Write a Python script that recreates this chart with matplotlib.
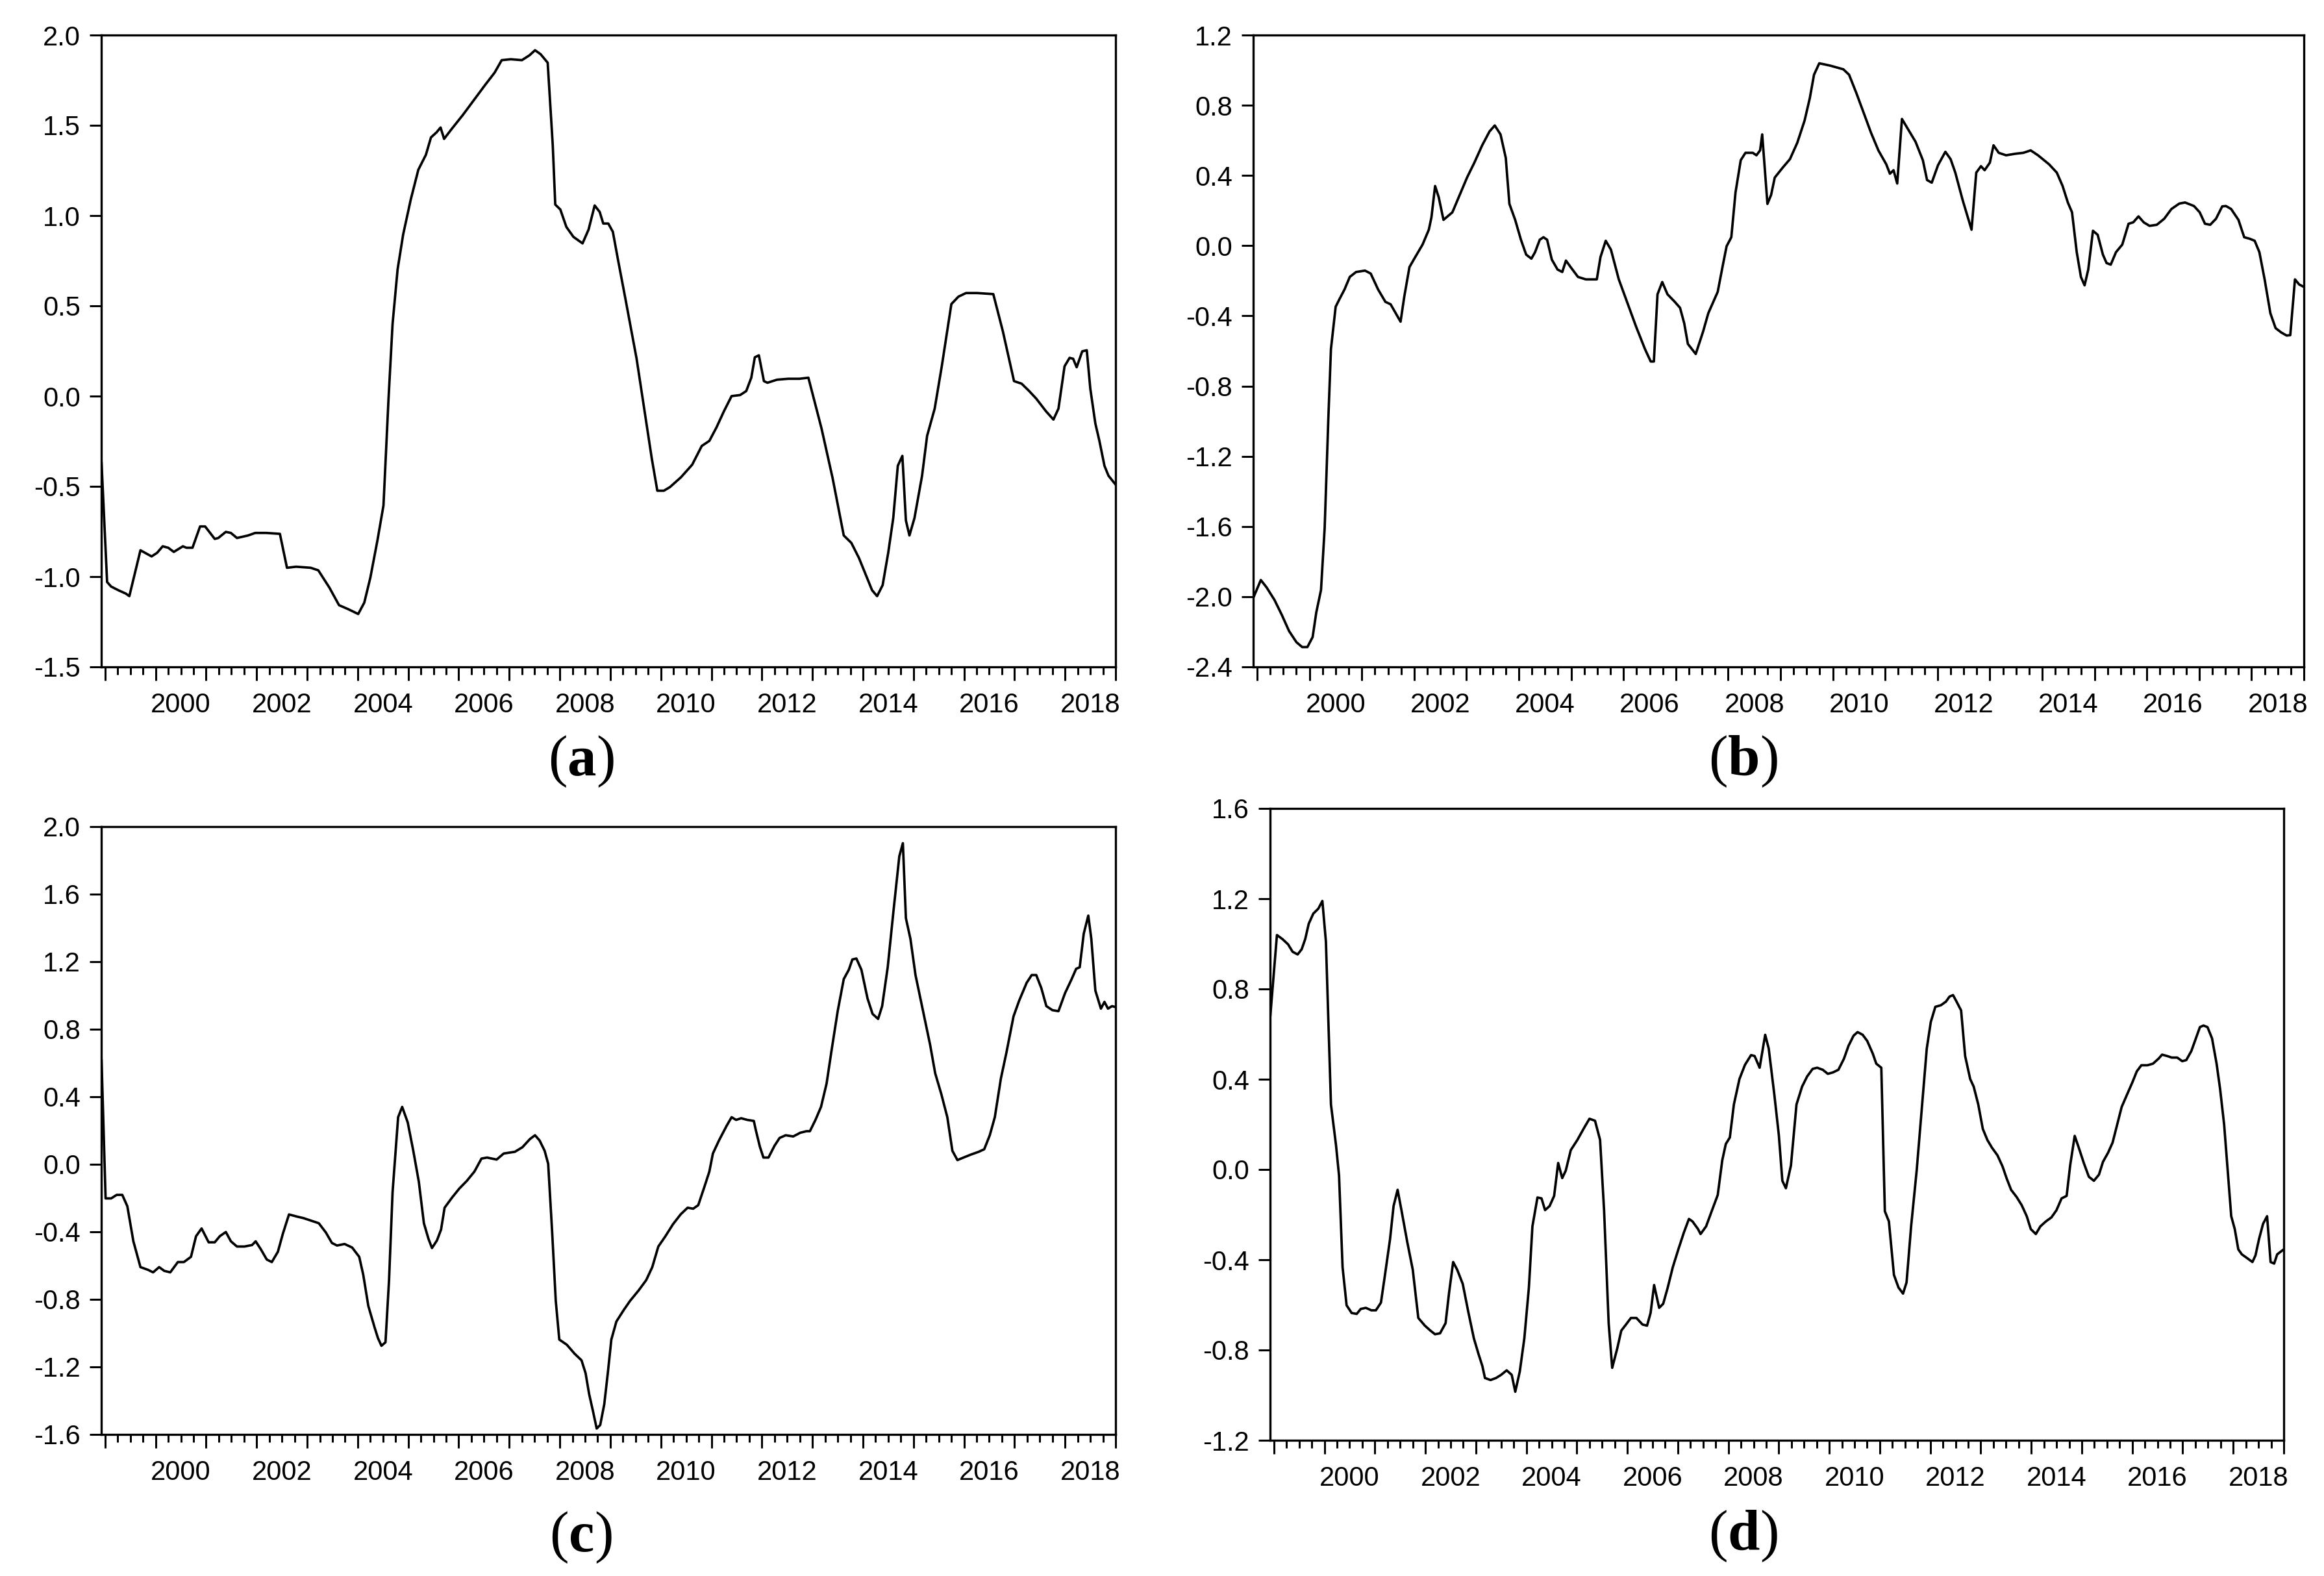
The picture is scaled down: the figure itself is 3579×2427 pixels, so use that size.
import numpy as np
import matplotlib
matplotlib.use("Agg")
import matplotlib.pyplot as plt
from matplotlib import transforms
from matplotlib.ticker import FormatStrFormatter

matplotlib.rcParams["font.family"] = ["Liberation Sans", "DejaVu Sans"]
matplotlib.rcParams["axes.unicode_minus"] = False
matplotlib.rcParams["mathtext.fontset"] = "custom"
matplotlib.rcParams["mathtext.rm"] = "Liberation Serif"
matplotlib.rcParams["mathtext.bf"] = "Liberation Serif:bold"

# --- (a) ---
a_years = [1998.93, 1999.04, 1999.12, 1999.26, 1999.41, 1999.48, 1999.70, 1999.85, 1999.92, 2000.03,
           2000.14, 2000.25, 2000.36, 2000.54, 2000.61, 2000.73, 2000.88, 2000.98, 2001.17, 2001.24,
           2001.39, 2001.49, 2001.61, 2001.83, 2001.97, 2002.19, 2002.46, 2002.60, 2002.78, 2003.07,
           2003.22, 2003.44, 2003.63, 2003.81, 2004.01, 2004.13, 2004.25, 2004.39, 2004.51, 2004.61,
           2004.69, 2004.79, 2004.90, 2005.05, 2005.20, 2005.35, 2005.45, 2005.56, 2005.64, 2005.71,
           2005.86, 2006.08, 2006.30, 2006.52, 2006.71, 2006.85, 2007.03, 2007.25, 2007.40, 2007.51,
           2007.62, 2007.76, 2007.86, 2007.91, 2008.01, 2008.13, 2008.27, 2008.45, 2008.57, 2008.69,
           2008.79, 2008.86, 2008.96, 2009.05, 2009.15, 2009.30, 2009.52, 2009.67, 2009.82, 2009.93,
           2010.06, 2010.18, 2010.40, 2010.62, 2010.81, 2010.96, 2011.10, 2011.25, 2011.40, 2011.57,
           2011.69, 2011.79, 2011.86, 2011.94, 2012.04, 2012.11, 2012.30, 2012.52, 2012.74, 2012.92,
           2013.18, 2013.40, 2013.62, 2013.77, 2013.92, 2014.06, 2014.18, 2014.28, 2014.39, 2014.50,
           2014.60, 2014.69, 2014.78, 2014.85, 2014.92, 2015.02, 2015.17, 2015.27, 2015.42, 2015.56,
           2015.75, 2015.89, 2016.04, 2016.26, 2016.58, 2016.77, 2016.99, 2017.14, 2017.29, 2017.43,
           2017.62, 2017.77, 2017.87, 2017.99, 2018.09, 2018.16, 2018.23, 2018.34, 2018.43, 2018.50,
           2018.60, 2018.68, 2018.78, 2018.86, 2019.00]
a_vals = [-0.37, -1.03, -1.055, -1.075, -1.094, -1.108, -0.854, -0.877, -0.888, -0.868,
          -0.832, -0.84, -0.863, -0.832, -0.84, -0.84, -0.722, -0.722, -0.791, -0.786,
          -0.752, -0.758, -0.786, -0.772, -0.758, -0.758, -0.763, -0.951, -0.945, -0.951,
          -0.965, -1.061, -1.158, -1.18, -1.207, -1.144, -1.006, -0.80, -0.606, -0.014,
          0.40, 0.703, 0.896, 1.089, 1.254, 1.337, 1.433, 1.461, 1.488, 1.425,
          1.48, 1.557, 1.64, 1.723, 1.792, 1.861, 1.866, 1.861, 1.888, 1.916,
          1.894, 1.847, 1.392, 1.061, 1.034, 0.937, 0.882, 0.846, 0.923, 1.056,
          1.02, 0.956, 0.956, 0.91, 0.758, 0.537, 0.207, -0.069, -0.345, -0.524,
          -0.524, -0.504, -0.449, -0.38, -0.276, -0.248, -0.174, -0.083, 0.0, 0.006,
          0.028, 0.102, 0.215, 0.226, 0.083, 0.074, 0.091, 0.096, 0.096, 0.102,
          -0.179, -0.455, -0.772, -0.813, -0.896, -0.992, -1.075, -1.108, -1.047, -0.868,
          -0.675, -0.386, -0.331, -0.689, -0.772, -0.675, -0.441, -0.22, -0.069, 0.165,
          0.51, 0.551, 0.571, 0.571, 0.565, 0.358, 0.083, 0.069, 0.028, -0.014,
          -0.083, -0.13, -0.069, 0.165, 0.212, 0.207, 0.16, 0.248, 0.254, 0.041,
          -0.152, -0.248, -0.386, -0.441, -0.49]

# --- (b) ---
b_years = [1998.93, 1999.07, 1999.18, 1999.33, 1999.47, 1999.61, 1999.75, 1999.86, 1999.96, 2000.06,
           2000.13, 2000.22, 2000.29, 2000.36, 2000.41, 2000.50, 2000.57, 2000.67, 2000.77, 2000.89,
           2001.06, 2001.17, 2001.31, 2001.45, 2001.55, 2001.74, 2001.81, 2001.91, 2002.02, 2002.16,
           2002.28, 2002.33, 2002.40, 2002.47, 2002.56, 2002.73, 2002.87, 2003.01, 2003.15, 2003.30,
           2003.44, 2003.54, 2003.65, 2003.75, 2003.82, 2003.93, 2004.04, 2004.14, 2004.24, 2004.31,
           2004.40, 2004.47, 2004.54, 2004.63, 2004.74, 2004.83, 2004.90, 2004.99, 2005.13, 2005.28,
           2005.49, 2005.56, 2005.66, 2005.76, 2005.91, 2006.05, 2006.24, 2006.41, 2006.52, 2006.58,
           2006.65, 2006.74, 2006.84, 2006.98, 2007.08, 2007.16, 2007.23, 2007.38, 2007.52, 2007.62,
           2007.80, 2007.90, 2007.97, 2008.06, 2008.14, 2008.24, 2008.33, 2008.47, 2008.54, 2008.61,
           2008.65, 2008.75, 2008.82, 2008.89, 2009.04, 2009.18, 2009.32, 2009.46, 2009.56, 2009.64,
           2009.74, 2009.84, 2009.96, 2010.07, 2010.20, 2010.31, 2010.45, 2010.59, 2010.73, 2010.87,
           2011.02, 2011.09, 2011.16, 2011.23, 2011.32, 2011.44, 2011.58, 2011.72, 2011.80, 2011.89,
           2012.01, 2012.15, 2012.25, 2012.34, 2012.48, 2012.58, 2012.65, 2012.74, 2012.83, 2012.90,
           2013.00, 2013.07, 2013.17, 2013.31, 2013.49, 2013.64, 2013.78, 2013.92, 2014.13, 2014.28,
           2014.39, 2014.49, 2014.57, 2014.66, 2014.74, 2014.81, 2014.88, 2014.97, 2015.06, 2015.16,
           2015.23, 2015.31, 2015.41, 2015.53, 2015.65, 2015.74, 2015.84, 2015.94, 2016.05, 2016.19,
           2016.33, 2016.47, 2016.62, 2016.73, 2016.90, 2017.01, 2017.11, 2017.21, 2017.32, 2017.44,
           2017.51, 2017.61, 2017.75, 2017.86, 2017.96, 2018.06, 2018.15, 2018.25, 2018.36, 2018.46,
           2018.57, 2018.67, 2018.74, 2018.83, 2018.91, 2019.00]
b_vals = [-2.004, -1.905, -1.947, -2.018, -2.103, -2.196, -2.259, -2.287, -2.287, -2.23,
          -2.089, -1.962, -1.608, -0.985, -0.589, -0.348, -0.306, -0.249, -0.178, -0.15,
          -0.142, -0.159, -0.249, -0.32, -0.334, -0.433, -0.292, -0.122, -0.065, 0.006,
          0.091, 0.161, 0.34, 0.275, 0.147, 0.19, 0.289, 0.388, 0.473, 0.572,
          0.651, 0.685, 0.634, 0.501, 0.238, 0.147, 0.034, -0.051, -0.074, -0.037,
          0.034, 0.048, 0.034, -0.079, -0.136, -0.15, -0.085, -0.122, -0.178, -0.192,
          -0.192, -0.065, 0.028, -0.023, -0.192, -0.306, -0.461, -0.589, -0.66, -0.66,
          -0.277, -0.207, -0.277, -0.32, -0.354, -0.442, -0.56, -0.617, -0.49, -0.385,
          -0.263, -0.108, -0.003, 0.048, 0.303, 0.487, 0.529, 0.529, 0.515, 0.543,
          0.634, 0.238, 0.289, 0.388, 0.444, 0.493, 0.586, 0.713, 0.841, 0.974,
          1.039, 1.033, 1.025, 1.016, 1.005, 0.974, 0.869, 0.756, 0.643, 0.543,
          0.464, 0.41, 0.43, 0.354, 0.722, 0.662, 0.592, 0.487, 0.374, 0.359,
          0.459, 0.535, 0.493, 0.416, 0.26, 0.161, 0.091, 0.416, 0.453, 0.43,
          0.473, 0.572, 0.529, 0.515, 0.524, 0.529, 0.543, 0.515, 0.464, 0.416,
          0.34, 0.246, 0.19, -0.037, -0.178, -0.226, -0.136, 0.085, 0.062, -0.051,
          -0.099, -0.108, -0.037, 0.006, 0.125, 0.133, 0.167, 0.133, 0.113, 0.119,
          0.153, 0.209, 0.24, 0.246, 0.226, 0.19, 0.125, 0.119, 0.153, 0.224,
          0.226, 0.209, 0.147, 0.048, 0.04, 0.028, -0.037, -0.192, -0.385, -0.47,
          -0.495, -0.512, -0.51, -0.192, -0.221, -0.235]

# --- (c) ---
c_years = [1998.93, 1999.01, 1999.12, 1999.23, 1999.34, 1999.44, 1999.56, 1999.70, 1999.85, 1999.95,
           2000.07, 2000.17, 2000.29, 2000.44, 2000.56, 2000.70, 2000.80, 2000.91, 2001.05, 2001.17,
           2001.27, 2001.39, 2001.49, 2001.61, 2001.76, 2001.91, 2001.98, 2002.08, 2002.20, 2002.30,
           2002.42, 2002.52, 2002.64, 2002.79, 2002.93, 2003.08, 2003.23, 2003.37, 2003.49, 2003.59,
           2003.74, 2003.89, 2004.03, 2004.11, 2004.21, 2004.33, 2004.40, 2004.47, 2004.55, 2004.62,
           2004.69, 2004.80, 2004.88, 2004.99, 2005.10, 2005.21, 2005.31, 2005.40, 2005.47, 2005.57,
           2005.65, 2005.72, 2005.87, 2006.01, 2006.16, 2006.31, 2006.45, 2006.56, 2006.75, 2006.89,
           2007.11, 2007.26, 2007.41, 2007.51, 2007.60, 2007.70, 2007.77, 2007.85, 2007.92, 2007.99,
           2008.14, 2008.29, 2008.43, 2008.51, 2008.58, 2008.66, 2008.73, 2008.80, 2008.88, 2008.95,
           2009.02, 2009.12, 2009.27, 2009.39, 2009.56, 2009.71, 2009.83, 2009.95, 2010.09, 2010.24,
           2010.39, 2010.53, 2010.64, 2010.74, 2010.86, 2010.96, 2011.03, 2011.15, 2011.30, 2011.40,
           2011.49, 2011.59, 2011.71, 2011.84, 2011.88, 2011.96, 2012.03, 2012.13, 2012.25, 2012.35,
           2012.47, 2012.62, 2012.76, 2012.88, 2012.95, 2013.06, 2013.17, 2013.28, 2013.38, 2013.50,
           2013.62, 2013.72, 2013.79, 2013.87, 2013.97, 2014.09, 2014.19, 2014.30, 2014.38, 2014.49,
           2014.60, 2014.72, 2014.79, 2014.85, 2014.94, 2015.04, 2015.18, 2015.33, 2015.43, 2015.55,
           2015.67, 2015.77, 2015.87, 2015.99, 2016.14, 2016.29, 2016.40, 2016.51, 2016.61, 2016.73,
           2016.84, 2016.98, 2017.09, 2017.24, 2017.34, 2017.43, 2017.53, 2017.63, 2017.75, 2017.87,
           2018.00, 2018.12, 2018.22, 2018.29, 2018.37, 2018.46, 2018.52, 2018.60, 2018.71, 2018.78,
           2018.85, 2018.93, 2019.00]
c_vals = [0.616, -0.202, -0.202, -0.181, -0.181, -0.248, -0.456, -0.609, -0.625, -0.64,
          -0.609, -0.631, -0.64, -0.579, -0.579, -0.548, -0.426, -0.38, -0.462, -0.462,
          -0.426, -0.401, -0.456, -0.487, -0.487, -0.478, -0.456, -0.502, -0.564, -0.579,
          -0.518, -0.41, -0.297, -0.309, -0.319, -0.334, -0.349, -0.404, -0.466, -0.481,
          -0.472, -0.493, -0.548, -0.655, -0.839, -0.962, -1.029, -1.075, -1.054, -0.686,
          -0.165, 0.279, 0.34, 0.248, 0.08, -0.104, -0.349, -0.441, -0.496, -0.45,
          -0.386, -0.257, -0.196, -0.144, -0.098, -0.043, 0.034, 0.04, 0.028, 0.064,
          0.074, 0.101, 0.15, 0.172, 0.141, 0.08, 0.003, -0.41, -0.809, -1.038,
          -1.069, -1.121, -1.161, -1.237, -1.36, -1.467, -1.565, -1.544, -1.421, -1.237,
          -1.038, -0.931, -0.861, -0.809, -0.747, -0.686, -0.609, -0.487, -0.426, -0.355,
          -0.297, -0.257, -0.263, -0.242, -0.135, -0.043, 0.064, 0.141, 0.227, 0.279,
          0.263, 0.273, 0.263, 0.257, 0.202, 0.104, 0.04, 0.04, 0.11, 0.156,
          0.172, 0.165, 0.187, 0.196, 0.196, 0.263, 0.34, 0.478, 0.677, 0.907,
          1.097, 1.152, 1.213, 1.219, 1.152, 0.983, 0.891, 0.861, 0.937, 1.167,
          1.488, 1.825, 1.902, 1.458, 1.335, 1.121, 0.922, 0.707, 0.539, 0.417,
          0.279, 0.08, 0.025, 0.04, 0.058, 0.074, 0.089, 0.172, 0.279, 0.508,
          0.662, 0.876, 0.968, 1.075, 1.121, 1.121, 1.044, 0.937, 0.913, 0.907,
          1.014, 1.09, 1.158, 1.167, 1.366, 1.473, 1.335, 1.029, 0.922, 0.962,
          0.922, 0.937, 0.931]

# --- (d) ---
d_years = [1998.93, 1999.06, 1999.17, 1999.28, 1999.37, 1999.47, 1999.55, 1999.62, 1999.69, 1999.78,
           1999.88, 1999.96, 2000.03, 2000.13, 2000.23, 2000.29, 2000.36, 2000.44, 2000.54, 2000.64,
           2000.72, 2000.82, 2000.93, 2001.02, 2001.12, 2001.20, 2001.30, 2001.37, 2001.45, 2001.53,
           2001.64, 2001.75, 2001.86, 2001.99, 2002.10, 2002.19, 2002.29, 2002.40, 2002.47, 2002.55,
           2002.63, 2002.74, 2002.85, 2002.96, 2003.05, 2003.13, 2003.18, 2003.29, 2003.40, 2003.50,
           2003.61, 2003.71, 2003.78, 2003.87, 2003.96, 2004.05, 2004.12, 2004.22, 2004.30, 2004.37,
           2004.46, 2004.55, 2004.63, 2004.71, 2004.78, 2004.88, 2005.01, 2005.15, 2005.25, 2005.36,
           2005.46, 2005.54, 2005.63, 2005.70, 2005.80, 2005.88, 2005.98, 2006.07, 2006.18, 2006.30,
           2006.39, 2006.46, 2006.53, 2006.63, 2006.71, 2006.80, 2006.90, 2007.01, 2007.12, 2007.22,
           2007.29, 2007.40, 2007.45, 2007.56, 2007.67, 2007.79, 2007.88, 2007.95, 2008.03, 2008.11,
           2008.22, 2008.33, 2008.45, 2008.52, 2008.62, 2008.73, 2008.80, 2008.91, 2009.00, 2009.07,
           2009.14, 2009.24, 2009.35, 2009.46, 2009.56, 2009.67, 2009.76, 2009.87, 2009.97, 2010.07,
           2010.18, 2010.29, 2010.38, 2010.48, 2010.56, 2010.66, 2010.75, 2010.86, 2010.93, 2011.03,
           2011.10, 2011.18, 2011.28, 2011.37, 2011.46, 2011.53, 2011.62, 2011.73, 2011.83, 2011.93,
           2012.01, 2012.10, 2012.21, 2012.31, 2012.38, 2012.45, 2012.52, 2012.61, 2012.69, 2012.79,
           2012.86, 2012.95, 2013.04, 2013.13, 2013.22, 2013.33, 2013.43, 2013.51, 2013.60, 2013.71,
           2013.81, 2013.91, 2013.99, 2014.09, 2014.18, 2014.29, 2014.40, 2014.50, 2014.60, 2014.70,
           2014.77, 2014.86, 2014.94, 2015.04, 2015.14, 2015.24, 2015.34, 2015.42, 2015.52, 2015.61,
           2015.70, 2015.79, 2015.90, 2016.00, 2016.09, 2016.18, 2016.30, 2016.41, 2016.52, 2016.59,
           2016.69, 2016.78, 2016.89, 2016.99, 2017.07, 2017.17, 2017.26, 2017.34, 2017.41, 2017.49,
           2017.58, 2017.67, 2017.74, 2017.82, 2017.89, 2017.96, 2018.03, 2018.10, 2018.17, 2018.27,
           2018.38, 2018.44, 2018.51, 2018.59, 2018.67, 2018.74, 2018.81, 2018.87, 2019.00]
d_vals = [0.683, 1.039, 1.021, 0.998, 0.965, 0.953, 0.976, 1.021, 1.089, 1.134,
          1.156, 1.19, 1.01, 0.288, 0.108, -0.027, -0.433, -0.602, -0.636, -0.64,
          -0.618, -0.613, -0.624, -0.624, -0.59, -0.467, -0.309, -0.162, -0.09, -0.185,
          -0.32, -0.444, -0.658, -0.692, -0.714, -0.73, -0.726, -0.681, -0.545, -0.41,
          -0.444, -0.507, -0.631, -0.748, -0.816, -0.872, -0.924, -0.933, -0.924, -0.91,
          -0.89, -0.91, -0.985, -0.895, -0.748, -0.523, -0.252, -0.124, -0.128, -0.18,
          -0.162, -0.117, 0.029, -0.038, -0.005, 0.086, 0.131, 0.187, 0.225, 0.216,
          0.131, -0.185, -0.681, -0.879, -0.793, -0.714, -0.685, -0.658, -0.658, -0.687,
          -0.692, -0.636, -0.512, -0.613, -0.595, -0.523, -0.433, -0.354, -0.279, -0.219,
          -0.23, -0.264, -0.286, -0.252, -0.185, -0.113, 0.041, 0.113, 0.142, 0.288,
          0.401, 0.464, 0.507, 0.503, 0.451, 0.597, 0.536, 0.334, 0.153, -0.05,
          -0.083, 0.018, 0.288, 0.367, 0.412, 0.446, 0.451, 0.442, 0.424, 0.43,
          0.442, 0.491, 0.548, 0.593, 0.609, 0.597, 0.57, 0.514, 0.469, 0.451,
          -0.185, -0.23, -0.467, -0.523, -0.55, -0.5, -0.252, -0.005, 0.266, 0.536,
          0.654, 0.721, 0.728, 0.744, 0.766, 0.773, 0.744, 0.705, 0.503, 0.401,
          0.367, 0.288, 0.18, 0.131, 0.097, 0.063, 0.014, -0.038, -0.09, -0.122,
          -0.158, -0.207, -0.264, -0.286, -0.252, -0.23, -0.212, -0.18, -0.128, -0.117,
          0.018, 0.149, 0.097, 0.029, -0.032, -0.05, -0.023, 0.034, 0.074, 0.119,
          0.198, 0.277, 0.334, 0.385, 0.435, 0.462, 0.462, 0.469, 0.491, 0.509,
          0.503, 0.496, 0.496, 0.48, 0.485, 0.525, 0.581, 0.631, 0.638, 0.631,
          0.581, 0.469, 0.356, 0.198, -0.005, -0.207, -0.264, -0.354, -0.376, -0.392,
          -0.41, -0.381, -0.309, -0.241, -0.207, -0.41, -0.417, -0.376, -0.354]

a_yticks = [-1.5, -1.0, -0.5, 0.0, 0.5, 1.0, 1.5, 2.0]
b_yticks = [-2.4, -2.0, -1.6, -1.2, -0.8, -0.4, 0.0, 0.4, 0.8, 1.2]
c_yticks = [-1.6, -1.2, -0.8, -0.4, 0.0, 0.4, 0.8, 1.2, 1.6, 2.0]
d_yticks = [-1.2, -0.8, -0.4, 0.0, 0.4, 0.8, 1.2, 1.6]
year_labels = list(range(2000, 2019, 2))

W, H = 3579, 2427
fig = plt.figure(figsize=(W / 100, H / 100), dpi=100)


def box(l, r, t, b):
    return [l / W, 1 - b / H, (r - l) / W, (b - t) / H]


def panel(rect, years, vals, yticks, letter, label_y):
    ax = fig.add_axes(rect)
    ax.plot(years, vals, color="black", lw=2.7, solid_joinstyle="round")
    ax.set_xlim(1998.925, 2019.0)
    ax.set_ylim(yticks[0], yticks[-1])
    ax.set_yticks(yticks)
    ax.yaxis.set_major_formatter(FormatStrFormatter("%.1f"))
    ax.set_xticks(np.arange(1999, 2020))
    ax.set_xticklabels([])
    ax.set_xticks(np.arange(1999, 2019.01, 0.25), minor=True)
    for sp in ax.spines.values():
        sp.set_linewidth(2.4)
    ax.tick_params(axis="x", which="major", length=15, width=2.2, direction="out")
    ax.tick_params(axis="x", which="minor", length=8.5, width=2.2, direction="out")
    ax.tick_params(axis="y", length=13, width=2.2, pad=10, labelsize=30, direction="out")
    off = transforms.offset_copy(ax.get_xaxis_transform(), fig=fig, y=-28, units="points")
    for yr in year_labels:
        ax.text(yr + 0.5, 0, str(yr), transform=off, ha="center", va="top", fontsize=30)
    cx = 0.25 if rect[0] < 0.5 else 0.75
    fig.text(cx, label_y, "($\\mathbf{%s}$)" % letter, ha="center", va="center",
             fontsize=64, family="Liberation Serif")
    return ax


panel(box(156, 1718, 54, 1027), a_years, a_vals, a_yticks, "a", 1 - 1173 / H)
panel(box(1930, 3548, 54, 1027), b_years, b_vals, b_yticks, "b", 1 - 1173 / H)
panel(box(156, 1718, 1273, 2209), c_years, c_vals, c_yticks, "c", 1 - 2368 / H)
panel(box(1956, 3517, 1245, 2218), d_years, d_vals, d_yticks, "d", 1 - 2366 / H)

fig.savefig("out.png", dpi=100, facecolor="white")
